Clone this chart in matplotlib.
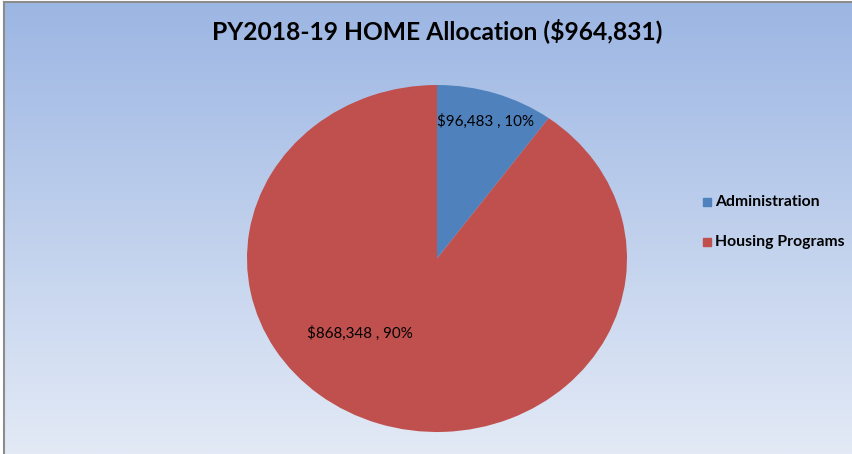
import numpy as np
import matplotlib
matplotlib.use("Agg")
import matplotlib.pyplot as plt
from matplotlib.colors import LinearSegmentedColormap

categories = ["Administration", "Housing Programs"]
values = [96483, 868348]
percents = ["10%", "90%"]
colors = ["#4f81bd", "#c0504d"]
title = "PY2018-19 HOME Allocation ($964,831)"

W, H = 852, 454
fig = plt.figure(figsize=(W / 100, H / 100), dpi=100)
fig.patch.set_facecolor("white")
plt.rcParams["font.family"] = ["Lato", "DejaVu Sans"]

# background with gradient
bg = fig.add_axes([4 / W, 0, (W - 4) / W, (H - 1.5) / H])
cmap = LinearSegmentedColormap.from_list("bg", ["#e3eaf6", "#9cb6e3"])
grad = np.linspace(0, 1, 256).reshape(-1, 1)
bg.imshow(grad, aspect="auto", cmap=cmap, origin="lower", extent=[0, 1, 0, 1])
bg.set_xticks([]); bg.set_yticks([])
for s in ["right", "bottom"]:
    bg.spines[s].set_visible(False)
for s in ["left", "top"]:
    bg.spines[s].set_color("#8c8c8c")
    bg.spines[s].set_linewidth(1.5)

fig.text(437 / W, 1 - 31 / H, title, ha="center", va="center",
         fontsize=17.7, fontweight="bold", color="#000000")

# pie axes
x0, x1, y0, y1 = 247, 627, 85, 432
ax = fig.add_axes([x0 / W, 1 - y1 / H, (x1 - x0) / W, (y1 - y0) / H])
ax.pie(values, colors=colors, startangle=90, counterclock=False,
       wedgeprops=dict(linewidth=0))
ax.set_aspect("auto")
ax.set_xlim(-1, 1); ax.set_ylim(-1, 1)
ax.axis("off")

label_pos = [(0.253, 0.79), (-0.405, -0.43)]
for v, p, (lx, ly) in zip(values, percents, label_pos):
    ax.text(lx, ly, f"${v:,} , {p}", ha="center", va="center",
            fontsize=10.9, color="black")

# legend
for i, c in enumerate(categories):
    yy = 1 - (202 + 40 * i) / H
    fig.patches.append(plt.Rectangle((703 / W, yy - 4 / H), 8 / W, 8 / H,
                                     transform=fig.transFigure, color=colors[i]))
    fig.text(715 / W, yy, c, ha="left", va="center", fontsize=11.3,
             fontweight="bold", color="black")

fig.savefig("out.png", dpi=100)
